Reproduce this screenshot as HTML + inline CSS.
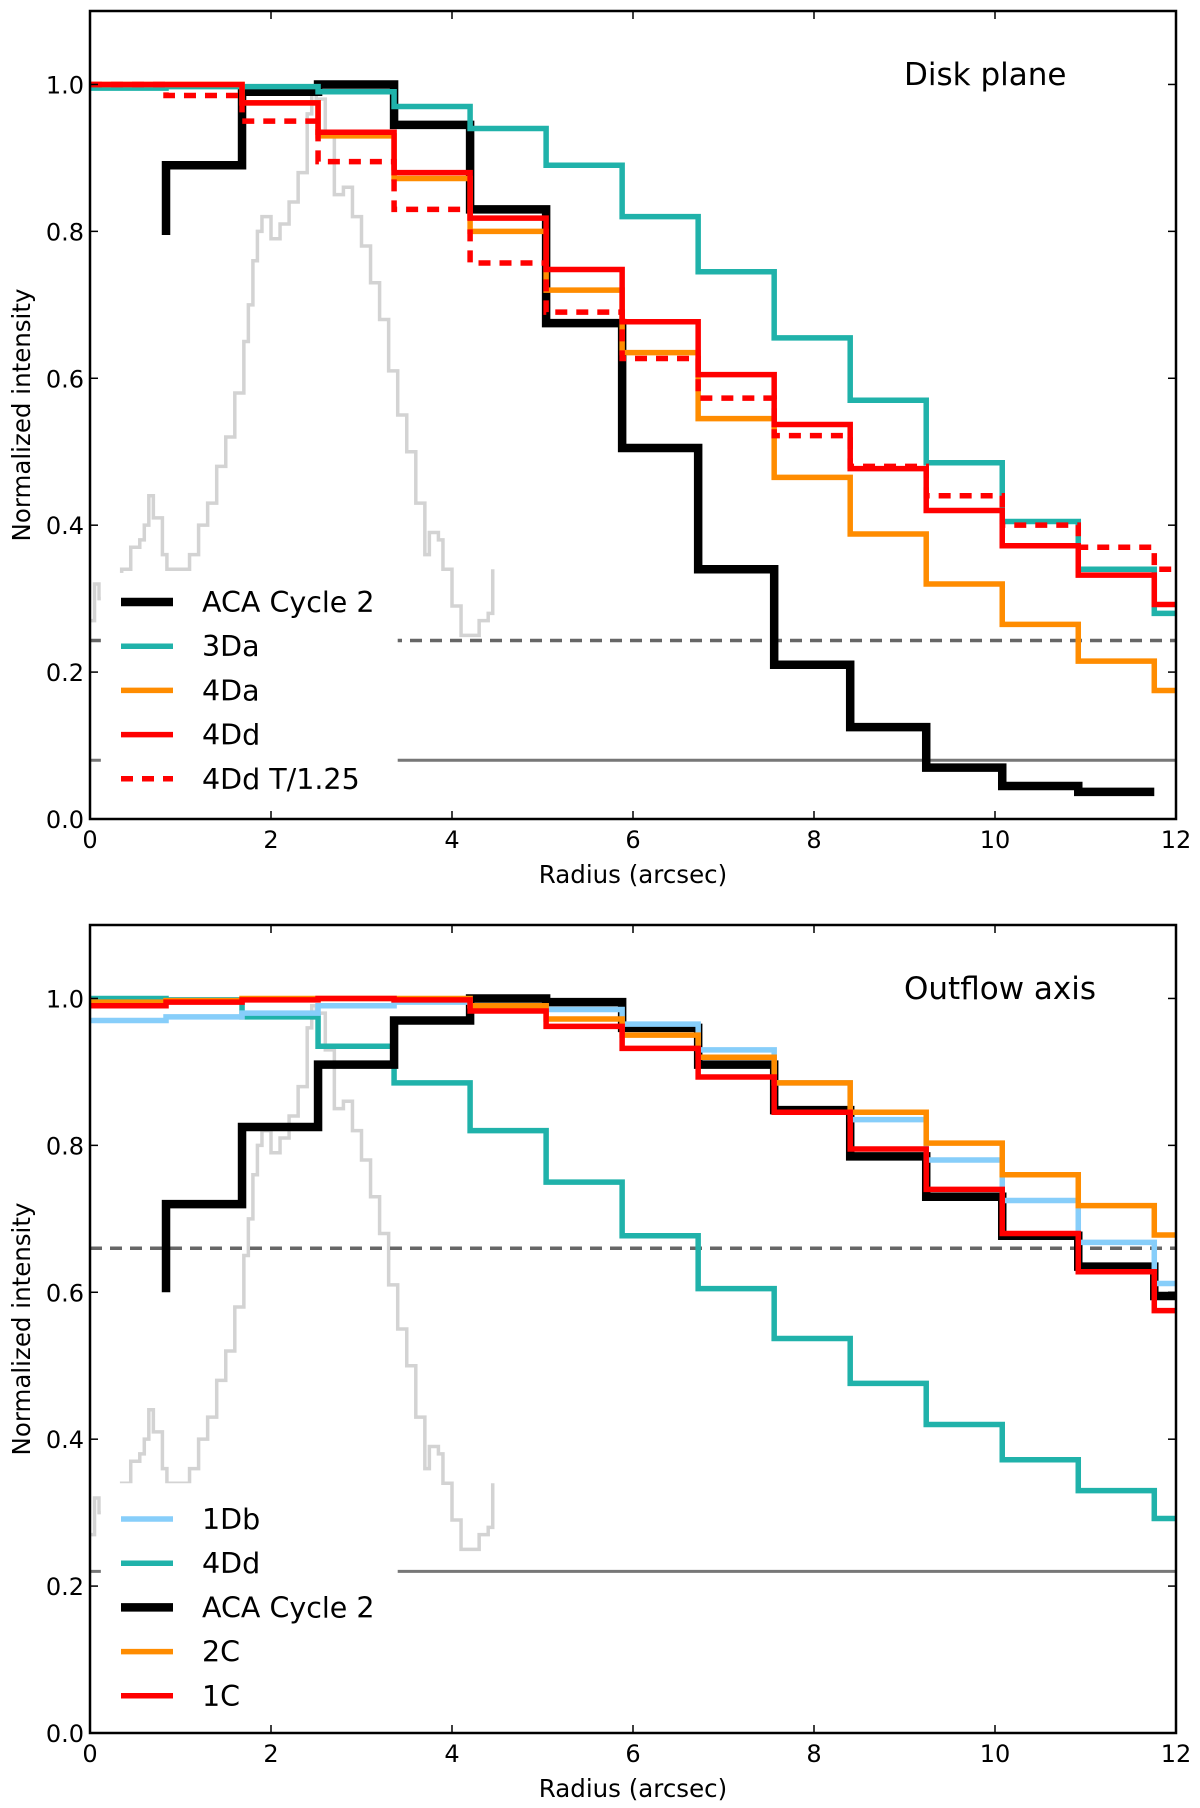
<!DOCTYPE html>
<html><head><meta charset="utf-8"><style>
html,body{margin:0;padding:0;background:#fff;}
svg{display:block;font-family:"DejaVu Sans","Liberation Sans",sans-serif;}
</style></head><body>
<svg id="chart" width="1200" height="1808" viewBox="0 0 1200 1808" xmlns="http://www.w3.org/2000/svg"></svg>
<script>
// shared bin edges (arcsec)
const binEdges = [0,0.84,1.68,2.52,3.36,4.2,5.04,5.88,6.72,7.56,8.4,9.24,10.08,10.92,11.76,12];
const xTicks = [0,2,4,6,8,10,12];
const yTicks = [0.0,0.2,0.4,0.6,0.8,1.0];
// gray intensity profile
const profX = [0,0.05,0.1,0.2,0.35,0.45,0.55,0.6,0.65,0.7,0.8,0.85,1.0,1.1,1.2,1.3,1.4,1.5,1.6,1.7,1.75,1.8,1.85,1.9,2.0,2.1,2.2,2.3,2.4,2.45,2.5,2.6,2.7,2.8,2.9,3.0,3.1,3.2,3.3,3.4,3.5,3.6,3.7,3.75,3.85,3.9,4.0,4.1,4.2,4.3,4.4,4.45];
const profY = [0.27,0.32,0.30,0.33,0.34,0.37,0.38,0.40,0.44,0.41,0.36,0.34,0.34,0.36,0.40,0.43,0.48,0.52,0.58,0.65,0.70,0.76,0.80,0.82,0.79,0.81,0.84,0.88,0.96,0.99,0.98,0.93,0.85,0.86,0.82,0.78,0.73,0.68,0.61,0.55,0.50,0.43,0.36,0.39,0.38,0.34,0.29,0.25,0.25,0.27,0.28,0.34];
// Disk plane series (value per bin; null = no data)
const diskACA = [null,0.89,0.99,1.0,0.945,0.83,0.675,0.505,0.34,0.21,0.125,0.07,0.045,0.037,null];
const disk3Da = [0.995,0.997,0.997,0.99,0.97,0.94,0.89,0.82,0.745,0.655,0.57,0.485,0.405,0.34,0.28];
const disk4Da = [1.0,1.0,0.975,0.93,0.872,0.80,0.72,0.635,0.545,0.465,0.388,0.32,0.265,0.215,0.175];
const disk4Dd = [1.0,1.0,0.975,0.935,0.88,0.818,0.748,0.677,0.605,0.537,0.477,0.42,0.372,0.332,0.292];
const disk4DdT = [1.0,0.985,0.95,0.895,0.83,0.757,0.69,0.627,0.573,0.522,0.48,0.44,0.40,0.37,0.34];
const diskDashed = 0.243, diskSolid = 0.08;
// Outflow axis series
const out1Db = [0.97,0.975,0.98,0.99,0.995,0.99,0.985,0.965,0.93,0.885,0.835,0.78,0.725,0.668,0.612];
const out4Dd = [1.0,0.998,0.975,0.935,0.885,0.82,0.75,0.677,0.605,0.537,0.476,0.42,0.372,0.33,0.292];
const outACA = [null,0.72,0.825,0.91,0.97,1.0,0.995,0.96,0.91,0.848,0.785,0.73,0.677,0.635,0.595];
const out2C = [0.995,0.997,1.0,1.0,1.0,0.99,0.972,0.95,0.92,0.885,0.845,0.803,0.76,0.718,0.678];
const out1C = [0.99,0.995,0.998,1.0,0.998,0.983,0.962,0.932,0.893,0.845,0.795,0.74,0.68,0.628,0.575];
const outDashed = 0.66, outSolid = 0.22;
const acaStartDisk = 0.795, acaStartOut = 0.60;

const NS = "http://www.w3.org/2000/svg";
const svg = document.getElementById('chart');
function el(tag, attrs, parent){const e=document.createElementNS(NS,tag);for(const k in attrs)e.setAttribute(k,attrs[k]);(parent||svg).appendChild(e);return e;}

function panel(cfg){
  const L=90,R=1176,T=cfg.top,B=cfg.top+808;
  const X=v=>L+(v/12)*(R-L);
  const Y=v=>B-(v/1.1)*(B-T);
  const g=el('g',{});
  
  
  const clipId=cfg.name+'-clip';
  const cp=el('clipPath',{id:clipId},g);el('rect',{x:L,y:T,width:R-L,height:B-T},cp);
  const plot=el('g',{'clip-path':'url(#'+clipId+')'},g);
  let d='';
  profX.forEach((x,i)=>{ if(i===0) d+='M'+X(x)+' '+Y(profY[i]); else d+=' H'+X(x)+' V'+Y(profY[i]); });
  const pr=el('path',{d:d,fill:'none',stroke:'#d3d3d3','stroke-width':3.5},plot);
  
  
  const hd=el('line',{x1:L,x2:R,y1:Y(cfg.dashed),y2:Y(cfg.dashed),stroke:'#666','stroke-width':3.5,'stroke-dasharray':'12 8'},plot);
  
  
  const hs=el('line',{x1:L,x2:R,y1:Y(cfg.solid),y2:Y(cfg.solid),stroke:'#777','stroke-width':3},plot);
  
  
  cfg.series.forEach(s=>{
    let p='';let started=false;
    for(let i=0;i<s.vals.length;i++){
      const v=s.vals[i]; if(v===null){ if(started) break; continue; }
      if(!started){ p='M'+X(binEdges[i])+' '+Y(s.start!==undefined?s.start:v); if(s.start!==undefined) p+=' V'+Y(v); started=true; }
      else p+=' V'+Y(v);
      p+=' H'+X(binEdges[i+1]);
    }
    const attrs={d:p,fill:'none',stroke:s.color,'stroke-width':s.w,'stroke-linejoin':'miter'};
    if(s.dash) attrs['stroke-dasharray']=s.dash;
    const ln=el('path',attrs,plot);
    
    
  });
  const lg=el('g',{},g);
  
  
  el('rect',{x:X(0.12),y:Y(cfg.legTop),width:X(3.4)-X(0.12),height:B-Y(cfg.legTop)-2,fill:'#fff'},lg);
  cfg.legend.forEach((s,i)=>{
    const y=cfg.legY0+i*44.2;
    const e=el('g',{},lg);
    
    
    const a={x1:121,x2:173,y1:y,y2:y,stroke:s.color,'stroke-width':s.w};
    if(s.dash) a['stroke-dasharray']='12 9';
    el('line',a,e);
    const t=el('text',{x:202,y:y+10,'font-size':28.5,fill:'#000'},e);t.textContent=s.label;
  });
  const fr=el('rect',{x:L,y:T,width:R-L,height:B-T,fill:'none',stroke:'#000','stroke-width':2.5},g);
  
  
  xTicks.forEach(v=>{
    el('line',{x1:X(v),x2:X(v),y1:B,y2:B-8,stroke:'#000','stroke-width':1.5},g);
    el('line',{x1:X(v),x2:X(v),y1:T,y2:T+8,stroke:'#000','stroke-width':1.5},g);
    const t=el('text',{x:X(v),y:B+29,'font-size':24,'text-anchor':'middle'},g);t.textContent=String(v);
    
    
  });
  yTicks.forEach(v=>{
    el('line',{x1:L,x2:L+8,y1:Y(v),y2:Y(v),stroke:'#000','stroke-width':1.5},g);
    el('line',{x1:R,x2:R-8,y1:Y(v),y2:Y(v),stroke:'#000','stroke-width':1.5},g);
    const t=el('text',{x:L-6,y:Y(v)+9,'font-size':24,'text-anchor':'end'},g);t.textContent=v.toFixed(1);
    
    
  });
  const xt=el('text',{x:(L+R)/2,y:cfg.top+872,'font-size':24.5,'text-anchor':'middle'},g);xt.textContent='Radius (arcsec)';
  
  
  const yc=(T+B)/2;
  const yt=el('text',{x:30,y:yc,'font-size':24.5,'text-anchor':'middle',transform:'rotate(-90 30 '+yc+')'},g);yt.textContent='Normalized intensity';
  
  
  const pt=el('text',{x:904,y:cfg.top+74,'font-size':31},g);pt.textContent=cfg.title;
  
  
}

const cBlack='#000',cTeal='#20b2aa',cOrange='#ff8c00',cRed='#ff0000',cBlue='#87cefa';
const dSeries={aca:{id:'aca-cycle-2',vals:diskACA,color:cBlack,w:8.5,start:acaStartDisk,label:'ACA Cycle 2'},
  d3:{id:'3da',vals:disk3Da,color:cTeal,w:5.5,label:'3Da'},
  d4a:{id:'4da',vals:disk4Da,color:cOrange,w:5.5,label:'4Da'},
  d4d:{id:'4dd',vals:disk4Dd,color:cRed,w:5.5,label:'4Dd'},
  d4t:{id:'4dd-t125',vals:disk4DdT,color:cRed,w:5.5,dash:'12 9',label:'4Dd T/1.25'}};
panel({name:'disk-plane-panel',top:11,title:'Disk plane',dashed:diskDashed,solid:diskSolid,legTop:0.335,legY0:602,
  series:[dSeries.aca,dSeries.d3,dSeries.d4a,dSeries.d4t,dSeries.d4d],
  legend:[dSeries.aca,dSeries.d3,dSeries.d4a,dSeries.d4d,dSeries.d4t]});
const oSeries={b1:{id:'1db',vals:out1Db,color:cBlue,w:5.5,label:'1Db'},
  d4:{id:'4dd',vals:out4Dd,color:cTeal,w:5.5,label:'4Dd'},
  aca:{id:'aca-cycle-2',vals:outACA,color:cBlack,w:8.5,start:acaStartOut,label:'ACA Cycle 2'},
  c2:{id:'2c',vals:out2C,color:cOrange,w:5.5,label:'2C'},
  c1:{id:'1c',vals:out1C,color:cRed,w:5.5,label:'1C'}};
panel({name:'outflow-axis-panel',top:925,title:'Outflow axis',dashed:outDashed,solid:outSolid,legTop:0.34,legY0:1519,
  series:[oSeries.d4,oSeries.aca,oSeries.b1,oSeries.c2,oSeries.c1],
  legend:[oSeries.b1,oSeries.d4,oSeries.aca,oSeries.c2,oSeries.c1]});
</script>
</body></html>
